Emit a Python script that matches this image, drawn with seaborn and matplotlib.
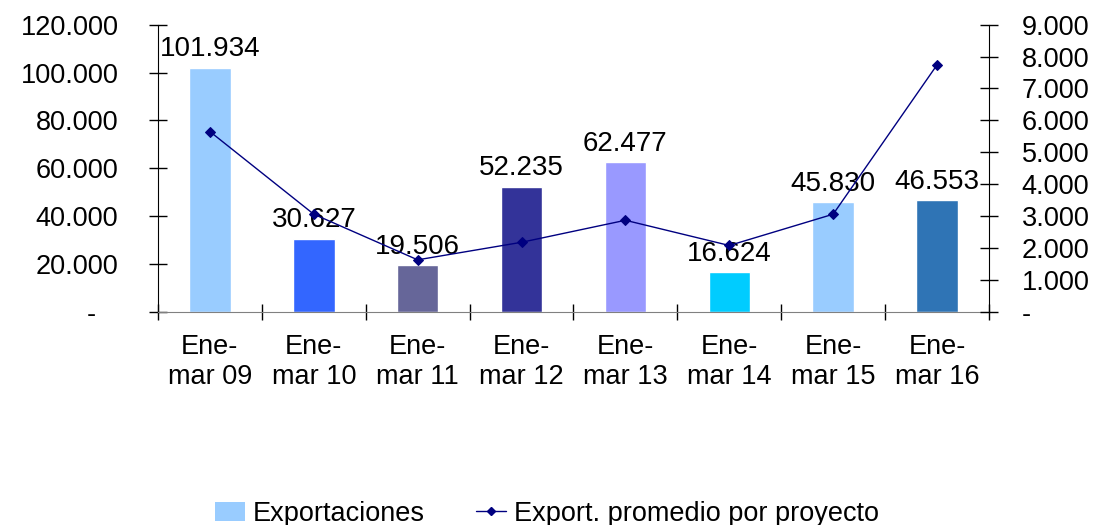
import seaborn as sns
import matplotlib.pyplot as plt
import numpy as np
from matplotlib.patches import Patch
from matplotlib.lines import Line2D
from matplotlib.ticker import FuncFormatter, FixedLocator

periodos = ["Ene-\nmar 09", "Ene-\nmar 10", "Ene-\nmar 11", "Ene-\nmar 12",
            "Ene-\nmar 13", "Ene-\nmar 14", "Ene-\nmar 15", "Ene-\nmar 16"]
exportaciones = [101934, 30627, 19506, 52235, 62477, 16624, 45830, 46553]
promedio = [5650, 3060, 1630, 2180, 2870, 2080, 3060, 7740]
colores = ["#99CCFF", "#3366FF", "#666699", "#333399",
           "#9999FF", "#00CCFF", "#99CCFF", "#2F74B5"]

sns.set_style("white")
plt.rcParams['font.family'] = ['Liberation Sans', 'DejaVu Sans']
plt.rcParams['text.color'] = 'black'
plt.rcParams['xtick.color'] = 'black'
plt.rcParams['ytick.color'] = 'black'


def miles(v, pos=None):
    if v == 0:
        return "-"
    return f"{v:,.0f}".replace(",", ".")


def miles_izq(v, pos=None):
    # el guion del cero va algo separado del borde
    if v == 0:
        return "-   "
    return miles(v)


fig = plt.figure(figsize=(10.94, 5.25), dpi=100)
ax = fig.add_axes([0.1444, 0.406, 0.7596, 0.547])

sns.barplot(x=periodos, y=exportaciones, hue=periodos, palette=colores,
            legend=False, width=0.4, saturation=1, ax=ax)
for cont, v in zip(ax.containers, exportaciones):
    ax.bar_label(cont, labels=[miles(v)], padding=4, fontsize=20)

ax.set_xlim(-0.5, len(periodos) - 0.5)
ax.set_ylim(0, 120000)
ax.set_yticks(np.arange(0, 120001, 20000))
ax.yaxis.set_major_formatter(FuncFormatter(miles_izq))
ax.tick_params(axis='y', direction='inout', length=13, width=1, pad=22,
               labelsize=19.5, left=True)
ax.tick_params(axis='x', which='major', length=0, pad=16, labelsize=19.5)
ax.xaxis.set_minor_locator(FixedLocator(np.arange(-0.5, len(periodos), 1)))
ax.tick_params(axis='x', which='minor', direction='inout', length=12,
               width=1, bottom=True)
for s in ["top", "right"]:
    ax.spines[s].set_visible(False)
ax.spines["left"].set_color("black")
ax.spines["bottom"].set_color("#808080")
ax.set_ylabel("")

ax2 = ax.twinx()
sns.lineplot(x=np.arange(len(periodos)), y=promedio, ax=ax2, color="#000080",
             marker="D", markersize=5, linewidth=1, markeredgecolor="#000080")
ax2.set_ylim(0, 9000)
ax2.set_yticks(np.arange(0, 9001, 1000))
ax2.yaxis.set_major_formatter(FuncFormatter(miles))
ax2.tick_params(axis='y', direction='inout', length=13, width=1, pad=17,
                labelsize=19.5, right=True)
for s in ["top", "left", "bottom"]:
    ax2.spines[s].set_visible(False)
ax2.spines["right"].set_color("black")

handles = [Patch(facecolor="#99CCFF", edgecolor="none"),
           Line2D([], [], color="#000080", marker="D", markersize=4, linewidth=1)]
fig.legend(handles, ["Exportaciones", "Export. promedio por proyecto"],
           loc="lower center", bbox_to_anchor=(0.5, -0.05), ncol=2,
           frameon=False, fontsize=19.5, handlelength=1.1, handletextpad=0.3,
           columnspacing=1.9)

fig.savefig("out.png", dpi=100)
